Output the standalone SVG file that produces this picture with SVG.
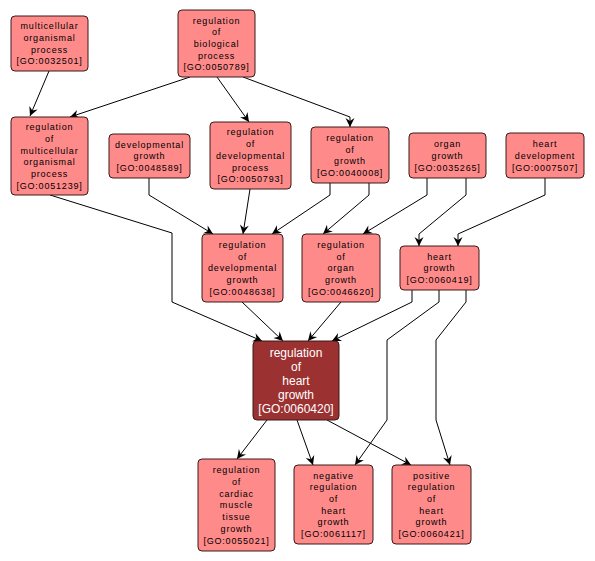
<svg xmlns="http://www.w3.org/2000/svg" width="595" height="561" viewBox="0 0 595 561">
<defs>
<marker id="arr" markerUnits="userSpaceOnUse" markerWidth="12" markerHeight="12" viewBox="-10 -6 12 12" refX="0" refY="0" orient="auto">
<path d="M0,0 L-9,-4.5 L-6,0 L-9,4.5 Z" fill="#000"/>
</marker>
</defs>
<style>
.n rect{fill:#ff8a8a;stroke:#3a1a1a;stroke-width:1}
.n text{font-family:"Liberation Sans",Arial,sans-serif;font-size:9px;letter-spacing:0.8px;fill:#000;text-anchor:middle}
.d rect{fill:#9b3131;stroke:#3a1a1a;stroke-width:1}
.d text{font-family:"Liberation Sans",Arial,sans-serif;font-size:12px;fill:#fff;text-anchor:middle}
.e polyline{fill:none;stroke:#000;stroke-width:1;marker-end:url(#arr)}
</style>
<rect width="595" height="561" fill="#fff"/>
<g class="e" id="edges">
<polyline points="49,71 30,116"/>
<polyline points="190,77 70,117"/>
<polyline points="217,77 249,122"/>
<polyline points="243,77 350,117 350,127"/>
<polyline points="50,195 172,233 172,302 262,341"/>
<polyline points="149,178 149,195 213,234"/>
<polyline points="250,189 243,234"/>
<polyline points="330,183 330,195 272,234"/>
<polyline points="369,183 369,195 323,234"/>
<polyline points="427,178 427,195 363,234"/>
<polyline points="466,178 466,195 419,234 419,246"/>
<polyline points="545,178 545,195 458,234 458,246"/>
<polyline points="242,302 283,341"/>
<polyline points="341,302 308,341"/>
<polyline points="412,290 412,302 332,341"/>
<polyline points="439,290 439,302 387,340 387,420 355,465"/>
<polyline points="466,290 466,302 436,340 436,420 450,465"/>
<polyline points="267,420 237,459"/>
<polyline points="297,420 313,465"/>
<polyline points="327,420 411,465"/>
</g>
<g class="n" id="GO0032501"><rect x="11" y="16" width="77" height="55" rx="4"/>
<text x="49.5" y="29.3">multicellular</text><text x="49.5" y="41">organismal</text><text x="49.5" y="52.7">process</text><text x="49.5" y="64.4">[GO:0032501]</text></g>
<g class="n" id="GO0050789"><rect x="178" y="10" width="77" height="67" rx="4"/>
<text x="216.5" y="23.5">regulation</text><text x="216.5" y="35.2">of</text><text x="216.5" y="46.9">biological</text><text x="216.5" y="58.6">process</text><text x="216.5" y="70.3">[GO:0050789]</text></g>
<g class="n" id="GO0051239"><rect x="11" y="117" width="77" height="78" rx="4"/>
<text x="49.5" y="130.3">regulation</text><text x="49.5" y="142">of</text><text x="49.5" y="153.7">multicellular</text><text x="49.5" y="165.4">organismal</text><text x="49.5" y="177.1">process</text><text x="49.5" y="188.8">[GO:0051239]</text></g>
<g class="n" id="GO0048589"><rect x="109" y="134" width="81" height="44" rx="4"/>
<text x="149.5" y="147.6">developmental</text><text x="149.5" y="159.3">growth</text><text x="149.5" y="171">[GO:0048589]</text></g>
<g class="n" id="GO0050793"><rect x="210" y="122" width="81" height="67" rx="4"/>
<text x="250.5" y="135.4">regulation</text><text x="250.5" y="147.1">of</text><text x="250.5" y="158.8">developmental</text><text x="250.5" y="170.5">process</text><text x="250.5" y="182.2">[GO:0050793]</text></g>
<g class="n" id="GO0040008"><rect x="311" y="127" width="78" height="56" rx="4"/>
<text x="350" y="140.8">regulation</text><text x="350" y="152.5">of</text><text x="350" y="164.2">growth</text><text x="350" y="175.9">[GO:0040008]</text></g>
<g class="n" id="GO0035265"><rect x="409" y="133" width="77" height="45" rx="4"/>
<text x="447.5" y="147.1">organ</text><text x="447.5" y="158.8">growth</text><text x="447.5" y="170.5">[GO:0035265]</text></g>
<g class="n" id="GO0007507"><rect x="506" y="133" width="78" height="45" rx="4"/>
<text x="545" y="147.1">heart</text><text x="545" y="158.8">development</text><text x="545" y="170.5">[GO:0007507]</text></g>
<g class="n" id="GO0048638"><rect x="202" y="234" width="81" height="68" rx="4"/>
<text x="242.5" y="247.9">regulation</text><text x="242.5" y="259.6">of</text><text x="242.5" y="271.3">developmental</text><text x="242.5" y="283">growth</text><text x="242.5" y="294.7">[GO:0048638]</text></g>
<g class="n" id="GO0046620"><rect x="302" y="234" width="78" height="68" rx="4"/>
<text x="341" y="247.9">regulation</text><text x="341" y="259.6">of</text><text x="341" y="271.3">organ</text><text x="341" y="283">growth</text><text x="341" y="294.7">[GO:0046620]</text></g>
<g class="n" id="GO0060419"><rect x="400" y="246" width="79" height="44" rx="4"/>
<text x="439.5" y="259.6">heart</text><text x="439.5" y="271.3">growth</text><text x="439.5" y="283">[GO:0060419]</text></g>
<g class="d" id="GO0060420"><rect x="253" y="341" width="86" height="79" rx="4"/>
<text x="296" y="356.8">regulation</text><text x="296" y="370.8">of</text><text x="296" y="384.8">heart</text><text x="296" y="398.8">growth</text><text x="296" y="412.8">[GO:0060420]</text></g>
<g class="n" id="GO0055021"><rect x="198" y="459" width="77" height="92" rx="4"/>
<text x="236.5" y="473.3">regulation</text><text x="236.5" y="485">of</text><text x="236.5" y="496.7">cardiac</text><text x="236.5" y="508.4">muscle</text><text x="236.5" y="520.1">tissue</text><text x="236.5" y="531.8">growth</text><text x="236.5" y="543.5">[GO:0055021]</text></g>
<g class="n" id="GO0061117"><rect x="294" y="465" width="79" height="79" rx="4"/>
<text x="333.5" y="478.6">negative</text><text x="333.5" y="490.3">regulation</text><text x="333.5" y="502">of</text><text x="333.5" y="513.7">heart</text><text x="333.5" y="525.4">growth</text><text x="333.5" y="537.1">[GO:0061117]</text></g>
<g class="n" id="GO0060421"><rect x="392" y="465" width="79" height="79" rx="4"/>
<text x="431.5" y="478.6">positive</text><text x="431.5" y="490.3">regulation</text><text x="431.5" y="502">of</text><text x="431.5" y="513.7">heart</text><text x="431.5" y="525.4">growth</text><text x="431.5" y="537.1">[GO:0060421]</text></g>
</svg>
